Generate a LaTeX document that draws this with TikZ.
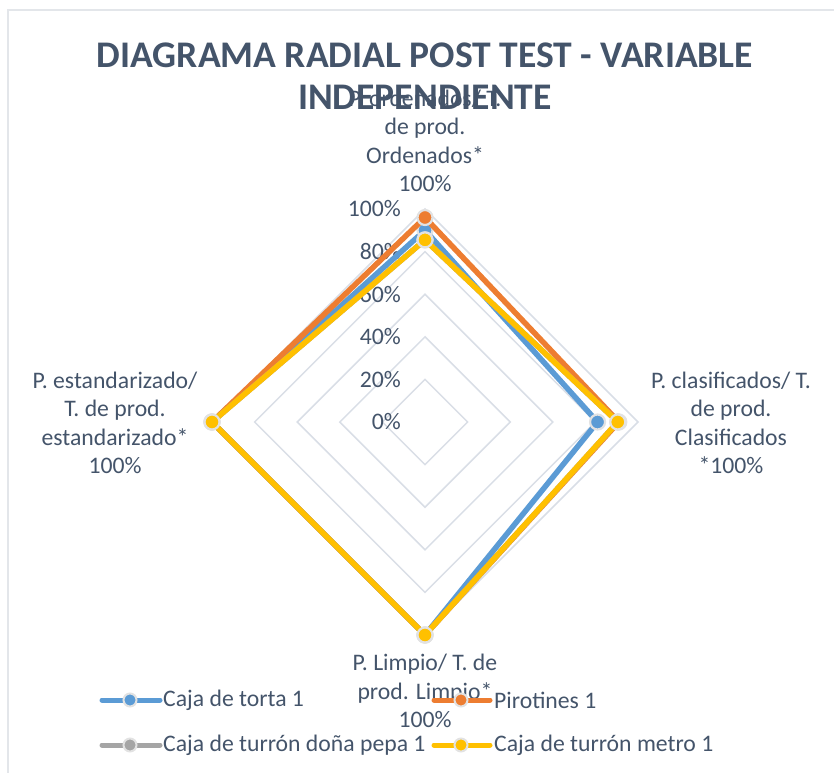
\documentclass[tikz,border=0pt]{standalone}
\usepackage{fontspec}
\setmainfont{Carlito}
\usepackage{tikz}

\definecolor{txtcol}{HTML}{44546A}
\definecolor{gridcol}{HTML}{D9DEE6}
\definecolor{framecol}{HTML}{E3E6EA}
\definecolor{dotedge}{HTML}{E2E2E2}
\definecolor{sblue}{HTML}{5B9BD5}
\definecolor{sorange}{HTML}{ED7D31}
\definecolor{sgray}{HTML}{A5A5A5}
\definecolor{syellow}{HTML}{FFC000}

\tikzset{
  serie/.style={line width=5.5pt, line join=round, line cap=round},
  dot/.style={circle, draw=dotedge, line width=2.2pt, minimum size=15pt, inner sep=0pt},
  legline/.style={line width=5pt, line cap=round},
  legdot/.style={circle, draw=dotedge, line width=2pt, minimum size=13pt, inner sep=0pt},
  lbl/.style={text=txtcol, align=center, font=\fontsize{23.7}{28.5}\selectfont},
  pct/.style={text=txtcol, anchor=east, inner sep=0pt, font=\fontsize{23.7}{28.5}\selectfont},
  legtxt/.style={text=txtcol, anchor=west, inner sep=0pt, font=\fontsize{23.7}{28.5}\selectfont},
}

\begin{document}
\begin{tikzpicture}[x=1pt,y=-1pt]
\useasboundingbox (0,0) rectangle (834,773);

% chart frame
\draw[framecol, line width=1.5pt] (834,10) -- (8,10) -- (8,773);

% radial grid
\foreach \k in {1,...,5}
  \draw[gridcol, line width=1.5pt] (425,{422-42.6*\k}) -- ({425+42.6*\k},422)
    -- (425,{422+42.6*\k}) -- ({425-42.6*\k},422) -- cycle;

% scale labels
\node[pct] (p0) at (401,422) {0\%};
\node[pct] (p20) at (401,379.4) {20\%};
\node[pct] (p40) at (401,336.8) {40\%};
\node[pct] (p60) at (401,294.2) {60\%};
\node[pct] (p80) at (401,251.6) {80\%};
\node[pct] (p100) at (401,209) {100\%};

% axis labels
\node[lbl] (ordenados) at (425,141) {P. ordenados/ T.\\de prod.\\Ordenados*\\100\%};
\node[lbl] (clasificados) at (731,423) {P. clasificados/ T.\\de prod.\\Clasificados\\*100\%};
\node[lbl] (limpio) at (425,691) {P. Limpio/ T. de\\prod. Limpio*\\100\%};
\node[lbl] (estandar) at (115,423) {P. estandarizado/\\T. de prod.\\estandarizado*\\100\%};

% data points
\coordinate (bT) at (425,{422-213*0.90});
\coordinate (bR) at ({425+213*0.81},422);
\coordinate (bB) at (425,{422+213*1.00});
\coordinate (bL) at ({425-213*1.00},422);

\coordinate (oT) at (425,{422-213*0.96});
\coordinate (oR) at ({425+213*0.91},422);
\coordinate (oB) at (425,{422+213*1.00});
\coordinate (oL) at ({425-213*1.00},422);

\coordinate (gT) at (425,{422-213*0.855});
\coordinate (gR) at ({425+213*0.905},422);
\coordinate (gB) at (425,{422+213*1.00});
\coordinate (gL) at ({425-213*1.00},422);

\coordinate (yT) at (425,{422-213*0.855});
\coordinate (yR) at ({425+213*0.905},422);
\coordinate (yB) at (425,{422+213*1.00});
\coordinate (yL) at ({425-213*1.00},422);

% Caja de torta 1
\draw[serie, sblue] (bT) -- (bR) -- (bB) -- (bL) -- cycle;
\foreach \p in {bT,bR,bB,bL} \node[dot, fill=sblue] (\p-m) at (\p) {};

% Pirotines 1
\draw[serie, sorange] (oT) -- (oR) -- (oB) -- (oL) -- cycle;
\foreach \p in {oT,oR,oB,oL} \node[dot, fill=sorange] (\p-m) at (\p) {};

% Caja de turron dona pepa 1
\draw[serie, sgray] (gT) -- (gR) -- (gB) -- (gL) -- cycle;
\foreach \p in {gT,gR,gB,gL} \node[dot, fill=sgray] (\p-m) at (\p) {};

% Caja de turron metro 1
\draw[serie, syellow] (yT) -- (yR) -- (yB) -- (yL) -- cycle;
\foreach \p in {yT,yR,yB,yL} \node[dot, fill=syellow] (\p-m) at (\p) {};

% title
\node[text=txtcol, align=center, font=\fontsize{37.6}{42}\selectfont\bfseries] (title) at (425,76)
  {DIAGRAMA RADIAL POST TEST - VARIABLE\\INDEPENDIENTE};

% legend
\coordinate (l1a) at (102,700); \coordinate (l1b) at (160,700);
\coordinate (l2a) at (434,700); \coordinate (l2b) at (490,700);
\coordinate (l3a) at (102,745); \coordinate (l3b) at (160,745);
\coordinate (l4a) at (434,745); \coordinate (l4b) at (490,745);

\draw[legline, sblue] (l1a) -- (l1b);
\node[legdot, fill=sblue] (ld1) at (130,700) {};
\node[legtxt] (lt1) at (163,700) {Caja de torta 1};

\draw[legline, sorange] (l2a) -- (l2b);
\node[legdot, fill=sorange] (ld2) at (461,700) {};
\node[legtxt] (lt2) at (494,700) {Pirotines 1};

\draw[legline, sgray] (l3a) -- (l3b);
\node[legdot, fill=sgray] (ld3) at (130,745) {};
\node[legtxt] (lt3) at (163,745) {Caja de turrón doña pepa 1};

\draw[legline, syellow] (l4a) -- (l4b);
\node[legdot, fill=syellow] (ld4) at (461,745) {};
\node[legtxt] (lt4) at (494,745) {Caja de turrón metro 1};

\end{tikzpicture}
\end{document}
